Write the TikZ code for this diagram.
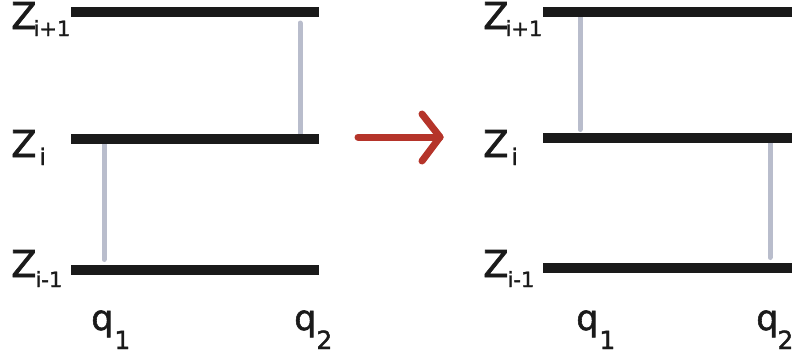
\documentclass[tikz,border=0pt]{standalone}
\usepackage{fontspec}
\setmainfont{DejaVu Sans}[FakeBold=1.6]
\definecolor{linkgray}{HTML}{B9BDCC}
\definecolor{arrowred}{HTML}{B5342A}
\definecolor{barblack}{HTML}{1A1A1A}
\tikzset{
  bar/.style={line width=10pt, color=barblack},
  link/.style={line width=5pt, color=linkgray, line cap=round},
  movearrow/.style={line width=7pt, color=arrowred, line cap=round, line join=round},
  zlab/.style={anchor=base west, inner sep=0pt, font=\fontsize{37}{37}\selectfont, text=barblack},
  qlab/.style={anchor=base west, inner sep=0pt, font=\fontsize{35}{35}\selectfont, text=barblack},
}
\newcommand{\subtxt}[4]{\hspace*{#1pt}\raisebox{-#2pt}{\fontsize{#4}{#4}\selectfont #3}}
\begin{document}
\begin{tikzpicture}[x=1pt,y=-1pt]
\useasboundingbox (0,0) rectangle (792,360);
% bar end points
\coordinate (LTa) at (71,12);  \coordinate (LTb) at (319,12);
\coordinate (LMa) at (71,139); \coordinate (LMb) at (319,139);
\coordinate (LBa) at (71,270); \coordinate (LBb) at (319,270);
\coordinate (RTa) at (543,12);  \coordinate (RTb) at (792,12);
\coordinate (RMa) at (543,138); \coordinate (RMb) at (792,138);
\coordinate (RBa) at (543,268); \coordinate (RBb) at (792,268);
% link ends
\coordinate (L1a) at (300,23);  \coordinate (L1b) at (300,136);
\coordinate (L2a) at (104,142); \coordinate (L2b) at (104,259.5);
\coordinate (R1a) at (580,14);  \coordinate (R1b) at (580,129.5);
\coordinate (R2a) at (770,141); \coordinate (R2b) at (770,257.5);
% links
\draw[link] (L1a) -- (L1b);
\draw[link] (L2a) -- (L2b);
\draw[link] (R1a) -- (R1b);
\draw[link] (R2a) -- (R2b);
% bars
\draw[bar] (LTa) -- (LTb);
\draw[bar] (LMa) -- (LMb);
\draw[bar] (LBa) -- (LBb);
\draw[bar] (RTa) -- (RTb);
\draw[bar] (RMa) -- (RMb);
\draw[bar] (RBa) -- (RBb);
% arrow
\coordinate (As) at (358,137); \coordinate (At) at (440,137);
\coordinate (Au) at (422,114); \coordinate (Ad) at (422,161);
\draw[movearrow] (As) -- (At);
\draw[movearrow] (Au) -- (At) -- (Ad);
% labels left
\node[zlab] (lz1) at (11,29) {Z\subtxt{-3}{7}{i+1}{21}};
\node[zlab] (lz2) at (11,157) {Z\subtxt{3}{8}{i}{23}};
\node[zlab] (lz3) at (11,277) {Z\subtxt{-1}{10}{i-1}{21}};
\node[qlab] (lq1) at (91,330) {q\subtxt{1}{19}{1}{25}};
\node[qlab] (lq2) at (294,330) {q\subtxt{0}{19}{2}{25}};
% labels right
\node[zlab] (rz1) at (483,29) {Z\subtxt{-3}{7}{i+1}{21}};
\node[zlab] (rz2) at (483,157) {Z\subtxt{3}{8}{i}{23}};
\node[zlab] (rz3) at (483,277) {Z\subtxt{-1}{10}{i-1}{21}};
\node[qlab] (rq1) at (576,330) {q\subtxt{1}{19}{1}{25}};
\node[qlab] (rq2) at (756,330) {q\subtxt{-1}{19}{2}{25}};
\end{tikzpicture}
\end{document}
